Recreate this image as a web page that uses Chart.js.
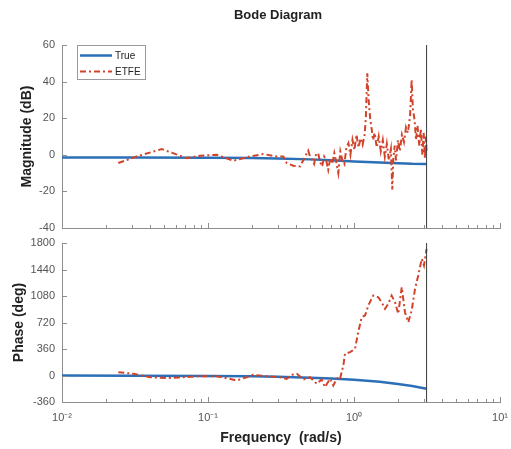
<!DOCTYPE html>
<html>
<head>
<meta charset="utf-8">
<script src="https://cdn.jsdelivr.net/npm/chart.js@4"></script>
<style>
  html, body { margin: 0; padding: 0; background: #fff; }
  #wrap { position: relative; width: 511px; height: 449px; }
  #wrap canvas { position: absolute; left: 0; top: 0; }
</style>
</head>
<body>
<div id="wrap">
  <canvas id="magChart" width="511" height="449"></canvas>
  <canvas id="phaseChart" width="511" height="449"></canvas>
</div>
<script>
// Values

const xMajorTicks = [0.01, 0.1, 1, 10];
const xTickLabels = ['10⁻²', '10⁻¹', '10⁰', '10¹'];
const nyquistFreq = 3.1416;

// true system response
const trueFreq  = [0.01, 0.03, 0.1, 0.2, 0.3, 0.5, 0.7, 1.0, 1.5, 2.0, 2.5, 3.1416];
const trueMag   = [-1.5, -1.5, -1.6, -1.8, -2.0, -2.5, -3.0, -3.6, -4.2, -4.6, -4.9, -5.0];
const truePhase = [0, -2, -6, -11, -17, -29, -40, -57, -86, -115, -143, -180];

// ETFE estimate, magnitude
const etfeMagFreq = [
  0.0243, 0.0325, 0.0482, 0.0714, 0.0881, 0.115, 0.149, 0.194, 0.239, 0.296,
  0.328, 0.346, 0.384, 0.427, 0.486,
  0.50, 0.516, 0.533, 0.55, 0.568, 0.586, 0.605, 0.625, 0.645, 0.666,
  0.687, 0.71, 0.733, 0.756, 0.781, 0.806, 0.832, 0.859, 0.887, 0.916,
  0.945, 0.976, 1.008, 1.04, 1.074, 1.109, 1.145, 1.182, 1.205, 1.233,
  1.26, 1.29, 1.322, 1.35, 1.386, 1.431, 1.477, 1.525, 1.575, 1.626,
  1.678, 1.733, 1.789, 1.829, 1.86, 1.90, 1.94, 2.0, 2.06, 2.13,
  2.2, 2.27, 2.34, 2.42, 2.483, 2.53, 2.6, 2.66, 2.72, 2.8,
  2.87, 2.94, 3.0, 3.06, 3.11, 3.14];
const etfeMag = [
  -4.5, -0.9, 3.1, -1.8, -0.5, 0, -3.3, -0.9, 0.4, -0.9,
  -0.9, -4.5, -6, -6.4, 2.3,
  -1, -2.7, -5, 0.5, 0.9, -4, -6.4, -1, -3, -8.2,
  -2, -5, 0.9, -4, -10, 1.8, -3, -5, 4, 6.4,
  0, 8.2, 2.7, 11, 4, 9, 5.5, 10.9, 20, 44.6,
  30, 20, 14, 8, 12, 4, 10, 2, 8, -1,
  6, -3, 3, -19, -2, 5, -3, 8, 2, 11,
  7, 15, 12, 21, 41, 25, 19, 8, 16, 5,
  14, 0, 12, -2, 10, 1];

// ETFE estimate, phase
const etfePhaseFreq = [0.0243, 0.0308, 0.0401, 0.0521, 0.0678, 0.0881, 0.115, 0.134, 0.157, 0.184,
  0.204, 0.252, 0.311, 0.346, 0.374, 0.406, 0.450, 0.500, 0.556, 0.601,
  0.632, 0.686, 0.721, 0.741, 0.780, 0.802, 0.845, 0.867, 0.940, 1.016,
  1.069, 1.129, 1.189, 1.253, 1.355, 1.466, 1.548, 1.630, 1.718, 1.811,
  1.910, 2.010, 2.123, 2.234, 2.355, 2.483, 2.618, 2.754, 2.911, 3.015, 3.14];
const etfePhase = [45, 23, -23, -36, -23, -9, -9, -36, -68, -23,
  9, -9, -23, -45, 9, 23, -54, -23, -113, -54,
  -158, -45, -136, -91, -23, -45, 136, 295, 317, 362,
  588, 792, 815, 951, 1086, 1063, 995, 906, 974, 1086,
  995, 838, 1199, 860, 724, 883, 1177, 1358, 1585, 1494, 1720];

const FONT = "'Liberation Sans', Arial, sans-serif";
const BLUE = '#2b6fb6';
const RED = '#d2432b';
const AXIS = '#8e8e8e';

function pairs(xs, ys) {
  return xs.map((x, i) => ({ x, y: ys[i] }));
}

function isMajor(v) {
  return xMajorTicks.some(m => Math.abs(v / m - 1) < 1e-6);
}

// MATLAB-style tick marks pointing into the plot
const innerTicks = {
  id: 'innerTicks',
  afterDraw(chart) {
    const { ctx, chartArea, scales } = chart;
    ctx.save();
    ctx.strokeStyle = AXIS;
    ctx.lineWidth = 1;
    ctx.beginPath();
    scales.x.ticks.forEach(t => {
      const px = Math.round(scales.x.getPixelForValue(t.value)) + 0.5;
      const len = isMajor(t.value) ? 5 : 3;
      ctx.moveTo(px, chartArea.bottom);
      ctx.lineTo(px, chartArea.bottom - len);
    });
    scales.y.ticks.forEach(t => {
      const py = Math.round(scales.y.getPixelForValue(t.value)) + 0.5;
      ctx.moveTo(chartArea.left, py);
      ctx.lineTo(chartArea.left + 5, py);
    });
    ctx.stroke();
    ctx.restore();
  }
};

// title centred over the axes, like MATLAB does
const axesTitle = {
  id: 'axesTitle',
  afterDraw(chart, args, opts) {
    if (!opts.text) return;
    const { ctx, chartArea } = chart;
    ctx.save();
    ctx.fillStyle = '#222';
    ctx.font = 'bold 13px ' + FONT;
    ctx.textAlign = 'center';
    ctx.textBaseline = 'middle';
    ctx.fillText(opts.text, (chartArea.left + chartArea.right) / 2 - 3, 15);
    ctx.restore();
  }
};

// legend box in the upper-left corner of the magnitude plot
const boxLegend = {
  id: 'boxLegend',
  afterDraw(chart) {
    const ctx = chart.ctx;
    const items = chart.data.datasets.filter(d => d.label);
    ctx.save();
    ctx.fillStyle = '#fff';
    ctx.strokeStyle = '#9a9a9a';
    ctx.lineWidth = 1;
    ctx.fillRect(77.5, 45.5, 68, 34);
    ctx.strokeRect(77.5, 45.5, 68, 34);
    items.forEach((d, i) => {
      const y = 55.5 + i * 16;
      ctx.strokeStyle = d.borderColor;
      ctx.lineWidth = d.borderWidth;
      ctx.setLineDash(d.borderDash || []);
      ctx.beginPath();
      ctx.moveTo(80, y);
      ctx.lineTo(112, y);
      ctx.stroke();
      ctx.setLineDash([]);
      ctx.fillStyle = '#222';
      ctx.font = '10px ' + FONT;
      ctx.textBaseline = 'middle';
      ctx.fillText(d.label, 115, y + 0.5);
    });
    ctx.restore();
  }
};

function xScale(showLabels) {
  return {
    type: 'logarithmic',
    min: 0.01,
    max: 10,
    grid: { display: false, drawTicks: false },
    border: { display: true, color: AXIS, width: 1 },
    afterBuildTicks(scale) {
      const ticks = [];
      xMajorTicks.forEach(m => {
        for (let k = 1; k <= 9; k++) {
          if (m * k <= 10 + 1e-9) ticks.push({ value: m * k });
          if (m === 10) break;
        }
      });
      scale.ticks = ticks;
    },
    afterFit(scale) {
      scale.height = showLabels ? 47 : 0;
      scale.paddingLeft = 0;
      scale.paddingRight = 0;
    },
    ticks: {
      display: showLabels,
      autoSkip: false,
      maxRotation: 0,
      padding: 9,
      color: '#555',
      font: { family: FONT, size: 11 },
      callback(v) {
        const i = xMajorTicks.findIndex(m => Math.abs(v / m - 1) < 1e-6);
        return i >= 0 ? xTickLabels[i] : '';
      }
    },
    title: {
      display: showLabels,
      text: 'Frequency  (rad/s)',
      color: '#222',
      font: { family: FONT, size: 14, weight: 'bold' },
      padding: { top: 0, bottom: 2 }
    }
  };
}

function yScale(min, max, step, title, titlePad) {
  return {
    min, max,
    grid: { display: false, drawTicks: false },
    border: { display: true, color: AXIS, width: 1 },
    afterFit(scale) {
      scale.width = 62;
      scale.paddingTop = 0;
      scale.paddingBottom = 0;
    },
    ticks: {
      stepSize: step,
      padding: 7,
      color: '#555',
      font: { family: FONT, size: 11 },
      callback: v => String(v)
    },
    title: {
      display: true,
      text: title,
      color: '#222',
      font: { family: FONT, size: 14, weight: 'bold' },
      padding: { top: titlePad, bottom: 0 }
    }
  };
}

function lineSet(label, data, color, width, dash, order) {
  return {
    label, data,
    borderColor: color,
    borderWidth: width,
    borderDash: dash,
    showLine: true,
    pointRadius: 0,
    fill: false,
    tension: 0,
    order
  };
}

new Chart(document.getElementById('magChart'), {
  type: 'scatter',
  data: {
    datasets: [
      lineSet('True', pairs(trueFreq, trueMag), BLUE, 2.5, [], 2),
      lineSet('ETFE', pairs(etfeMagFreq, etfeMag), RED, 2, [6, 3, 2, 3], 1),
      lineSet('', [{ x: nyquistFreq, y: -40 }, { x: nyquistFreq, y: 60 }], '#3a3a3a', 1, [], 0)
    ]
  },
  options: {
    responsive: false,
    animation: false,
    layout: { padding: { left: 0, right: 11, top: 45, bottom: 221 } },
    plugins: {
      legend: { display: false },
      tooltip: { enabled: false },
      title: { display: false },
      axesTitle: { text: 'Bode Diagram' }
    },
    scales: {
      x: xScale(false),
      y: yScale(-40, 60, 20, 'Magnitude (dB)', 18.5)
    }
  },
  plugins: [innerTicks, boxLegend, axesTitle]
});

new Chart(document.getElementById('phaseChart'), {
  type: 'scatter',
  data: {
    datasets: [
      lineSet('True', pairs(trueFreq, truePhase), BLUE, 2.5, [], 2),
      lineSet('ETFE', pairs(etfePhaseFreq, etfePhase), RED, 2, [6, 3, 2, 3], 1),
      lineSet('', [{ x: nyquistFreq, y: -360 }, { x: nyquistFreq, y: 1800 }], '#3a3a3a', 1, [], 0)
    ]
  },
  options: {
    responsive: false,
    animation: false,
    layout: { padding: { left: 0, right: 11, top: 243, bottom: 0 } },
    plugins: {
      legend: { display: false },
      tooltip: { enabled: false },
      axesTitle: { text: '' }
    },
    scales: {
      x: xScale(true),
      y: yScale(-360, 1800, 360, 'Phase (deg)', 10.5)
    }
  },
  plugins: [innerTicks]
});
</script>
</body>
</html>
